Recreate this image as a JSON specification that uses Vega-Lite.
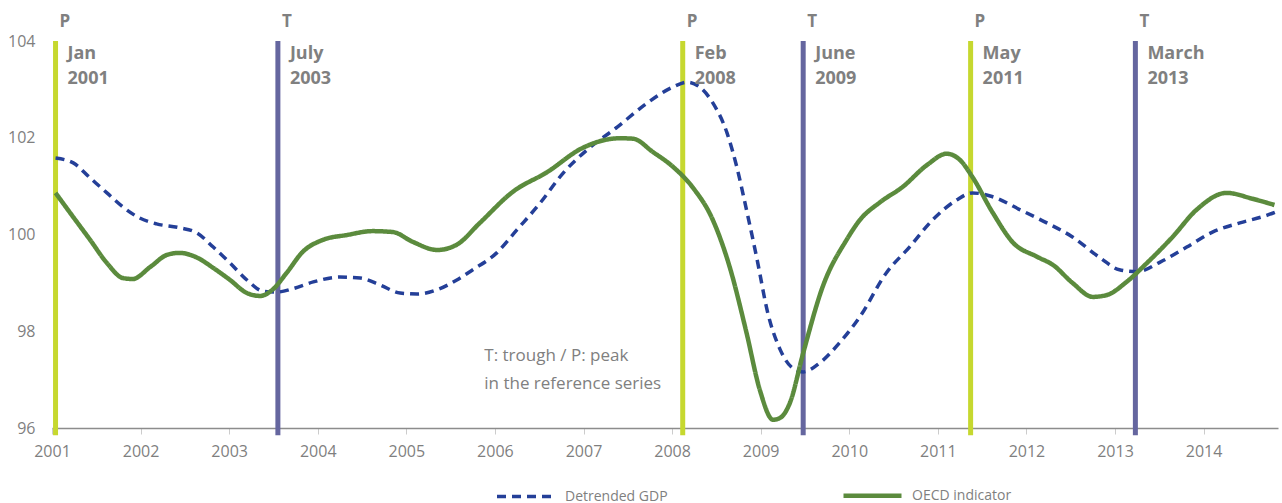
{
  "$schema": "https://vega.github.io/schema/vega-lite/v6.json",
  "width": 1226,
  "height": 387,
  "autosize": {"type": "none"},
  "padding": {"left": 52, "top": 41, "right": 4, "bottom": 75},
  "background": "white",
  "config": {
    "view": {"stroke": null},
    "font": "Open Sans"
  },
  "datasets": {
    "series": [
      {"series": "Detrended GDP", "year": 2001.04, "value": 101.58},
      {"series": "Detrended GDP", "year": 2001.24, "value": 101.48},
      {"series": "Detrended GDP", "year": 2001.43, "value": 101.17},
      {"series": "Detrended GDP", "year": 2001.62, "value": 100.86},
      {"series": "Detrended GDP", "year": 2001.80, "value": 100.57},
      {"series": "Detrended GDP", "year": 2001.99, "value": 100.34},
      {"series": "Detrended GDP", "year": 2002.18, "value": 100.22},
      {"series": "Detrended GDP", "year": 2002.44, "value": 100.14},
      {"series": "Detrended GDP", "year": 2002.64, "value": 100.03},
      {"series": "Detrended GDP", "year": 2002.82, "value": 99.74},
      {"series": "Detrended GDP", "year": 2003.01, "value": 99.41},
      {"series": "Detrended GDP", "year": 2003.20, "value": 99.06},
      {"series": "Detrended GDP", "year": 2003.38, "value": 98.83},
      {"series": "Detrended GDP", "year": 2003.54, "value": 98.81},
      {"series": "Detrended GDP", "year": 2003.72, "value": 98.88},
      {"series": "Detrended GDP", "year": 2003.95, "value": 99.02},
      {"series": "Detrended GDP", "year": 2004.25, "value": 99.12},
      {"series": "Detrended GDP", "year": 2004.48, "value": 99.10},
      {"series": "Detrended GDP", "year": 2004.70, "value": 98.96},
      {"series": "Detrended GDP", "year": 2004.93, "value": 98.79},
      {"series": "Detrended GDP", "year": 2005.12, "value": 98.77},
      {"series": "Detrended GDP", "year": 2005.35, "value": 98.86},
      {"series": "Detrended GDP", "year": 2005.57, "value": 99.06},
      {"series": "Detrended GDP", "year": 2005.75, "value": 99.27},
      {"series": "Detrended GDP", "year": 2006.02, "value": 99.62},
      {"series": "Detrended GDP", "year": 2006.25, "value": 100.10},
      {"series": "Detrended GDP", "year": 2006.51, "value": 100.65},
      {"series": "Detrended GDP", "year": 2006.77, "value": 101.27},
      {"series": "Detrended GDP", "year": 2007.04, "value": 101.75},
      {"series": "Detrended GDP", "year": 2007.38, "value": 102.22},
      {"series": "Detrended GDP", "year": 2007.72, "value": 102.72},
      {"series": "Detrended GDP", "year": 2008.01, "value": 103.05},
      {"series": "Detrended GDP", "year": 2008.17, "value": 103.15},
      {"series": "Detrended GDP", "year": 2008.31, "value": 103.05},
      {"series": "Detrended GDP", "year": 2008.46, "value": 102.72},
      {"series": "Detrended GDP", "year": 2008.62, "value": 102.10},
      {"series": "Detrended GDP", "year": 2008.73, "value": 101.40},
      {"series": "Detrended GDP", "year": 2008.84, "value": 100.51},
      {"series": "Detrended GDP", "year": 2008.96, "value": 99.48},
      {"series": "Detrended GDP", "year": 2009.08, "value": 98.38},
      {"series": "Detrended GDP", "year": 2009.22, "value": 97.62},
      {"series": "Detrended GDP", "year": 2009.36, "value": 97.24},
      {"series": "Detrended GDP", "year": 2009.48, "value": 97.16},
      {"series": "Detrended GDP", "year": 2009.67, "value": 97.35},
      {"series": "Detrended GDP", "year": 2009.89, "value": 97.76},
      {"series": "Detrended GDP", "year": 2010.12, "value": 98.30},
      {"series": "Detrended GDP", "year": 2010.42, "value": 99.21},
      {"series": "Detrended GDP", "year": 2010.68, "value": 99.74},
      {"series": "Detrended GDP", "year": 2010.94, "value": 100.30},
      {"series": "Detrended GDP", "year": 2011.21, "value": 100.71},
      {"series": "Detrended GDP", "year": 2011.39, "value": 100.86},
      {"series": "Detrended GDP", "year": 2011.62, "value": 100.78},
      {"series": "Detrended GDP", "year": 2011.93, "value": 100.51},
      {"series": "Detrended GDP", "year": 2012.23, "value": 100.24},
      {"series": "Detrended GDP", "year": 2012.52, "value": 99.95},
      {"series": "Detrended GDP", "year": 2012.83, "value": 99.52},
      {"series": "Detrended GDP", "year": 2013.05, "value": 99.27},
      {"series": "Detrended GDP", "year": 2013.25, "value": 99.23},
      {"series": "Detrended GDP", "year": 2013.51, "value": 99.43},
      {"series": "Detrended GDP", "year": 2013.81, "value": 99.74},
      {"series": "Detrended GDP", "year": 2014.10, "value": 100.05},
      {"series": "Detrended GDP", "year": 2014.41, "value": 100.24},
      {"series": "Detrended GDP", "year": 2014.72, "value": 100.40},
      {"series": "Detrended GDP", "year": 2014.82, "value": 100.47},
      {"series": "OECD indicator", "year": 2001.04, "value": 100.86},
      {"series": "OECD indicator", "year": 2001.24, "value": 100.36},
      {"series": "OECD indicator", "year": 2001.43, "value": 99.89},
      {"series": "OECD indicator", "year": 2001.62, "value": 99.41},
      {"series": "OECD indicator", "year": 2001.80, "value": 99.10},
      {"series": "OECD indicator", "year": 2001.91, "value": 99.08},
      {"series": "OECD indicator", "year": 2002.11, "value": 99.33},
      {"series": "OECD indicator", "year": 2002.30, "value": 99.58},
      {"series": "OECD indicator", "year": 2002.44, "value": 99.62},
      {"series": "OECD indicator", "year": 2002.64, "value": 99.52},
      {"series": "OECD indicator", "year": 2002.82, "value": 99.31},
      {"series": "OECD indicator", "year": 2003.01, "value": 99.06},
      {"series": "OECD indicator", "year": 2003.20, "value": 98.79},
      {"series": "OECD indicator", "year": 2003.35, "value": 98.73},
      {"series": "OECD indicator", "year": 2003.49, "value": 98.86},
      {"series": "OECD indicator", "year": 2003.65, "value": 99.21},
      {"series": "OECD indicator", "year": 2003.83, "value": 99.64},
      {"series": "OECD indicator", "year": 2004.06, "value": 99.89},
      {"series": "OECD indicator", "year": 2004.33, "value": 99.99},
      {"series": "OECD indicator", "year": 2004.62, "value": 100.07},
      {"series": "OECD indicator", "year": 2004.85, "value": 100.05},
      {"series": "OECD indicator", "year": 2005.07, "value": 99.85},
      {"series": "OECD indicator", "year": 2005.35, "value": 99.68},
      {"series": "OECD indicator", "year": 2005.57, "value": 99.79},
      {"series": "OECD indicator", "year": 2005.83, "value": 100.24},
      {"series": "OECD indicator", "year": 2006.20, "value": 100.88},
      {"series": "OECD indicator", "year": 2006.59, "value": 101.29},
      {"series": "OECD indicator", "year": 2006.99, "value": 101.79},
      {"series": "OECD indicator", "year": 2007.41, "value": 101.99},
      {"series": "OECD indicator", "year": 2007.56, "value": 101.98},
      {"series": "OECD indicator", "year": 2007.78, "value": 101.71},
      {"series": "OECD indicator", "year": 2008.01, "value": 101.40},
      {"series": "OECD indicator", "year": 2008.23, "value": 100.98},
      {"series": "OECD indicator", "year": 2008.46, "value": 100.30},
      {"series": "OECD indicator", "year": 2008.65, "value": 99.33},
      {"series": "OECD indicator", "year": 2008.84, "value": 97.97},
      {"series": "OECD indicator", "year": 2008.99, "value": 96.79},
      {"series": "OECD indicator", "year": 2009.14, "value": 96.17},
      {"series": "OECD indicator", "year": 2009.22, "value": 96.21},
      {"series": "OECD indicator", "year": 2009.33, "value": 96.52},
      {"series": "OECD indicator", "year": 2009.48, "value": 97.55},
      {"series": "OECD indicator", "year": 2009.70, "value": 98.92},
      {"series": "OECD indicator", "year": 2009.97, "value": 99.89},
      {"series": "OECD indicator", "year": 2010.12, "value": 100.30},
      {"series": "OECD indicator", "year": 2010.35, "value": 100.67},
      {"series": "OECD indicator", "year": 2010.60, "value": 100.98},
      {"series": "OECD indicator", "year": 2010.88, "value": 101.44},
      {"series": "OECD indicator", "year": 2011.10, "value": 101.67},
      {"series": "OECD indicator", "year": 2011.25, "value": 101.54},
      {"series": "OECD indicator", "year": 2011.39, "value": 101.19},
      {"series": "OECD indicator", "year": 2011.62, "value": 100.45},
      {"series": "OECD indicator", "year": 2011.85, "value": 99.83},
      {"series": "OECD indicator", "year": 2012.12, "value": 99.54},
      {"series": "OECD indicator", "year": 2012.30, "value": 99.37},
      {"series": "OECD indicator", "year": 2012.52, "value": 99.00},
      {"series": "OECD indicator", "year": 2012.75, "value": 98.71},
      {"series": "OECD indicator", "year": 2012.91, "value": 98.75},
      {"series": "OECD indicator", "year": 2013.13, "value": 99.02},
      {"series": "OECD indicator", "year": 2013.36, "value": 99.41},
      {"series": "OECD indicator", "year": 2013.65, "value": 99.95},
      {"series": "OECD indicator", "year": 2013.92, "value": 100.51},
      {"series": "OECD indicator", "year": 2014.26, "value": 100.86},
      {"series": "OECD indicator", "year": 2014.55, "value": 100.74},
      {"series": "OECD indicator", "year": 2014.80, "value": 100.61}
    ],
    "events": [
      {"year": 2001.04, "type": "P", "label": "Jan\n2001"},
      {"year": 2003.55, "type": "T", "label": "July\n2003"},
      {"year": 2008.12, "type": "P", "label": "Feb\n2008"},
      {"year": 2009.48, "type": "T", "label": "June\n2009"},
      {"year": 2011.37, "type": "P", "label": "May\n2011"},
      {"year": 2013.23, "type": "T", "label": "March\n2013"}
    ],
    "note": [
      {"year": 2005.88, "value": 97.66, "text": "T: trough / P: peak\nin the reference series"}
    ]
  },
  "layer": [
    {
      "data": {"name": "events"},
      "mark": {"type": "rule", "strokeWidth": 5},
      "encoding": {
        "x": {"field": "year", "type": "quantitative",
              "scale": {"domain": [2001, 2014.84], "nice": false, "zero": false},
              "axis": {"values": [2001, 2002, 2003, 2004, 2005, 2006, 2007, 2008, 2009, 2010, 2011, 2012, 2013, 2014],
                       "format": "d", "title": null, "grid": false, "labelFlush": false,
                       "domainColor": "#8c8c8c", "domainWidth": 1.5,
                       "tickColor": "#cccccc", "tickSize": 6, "tickWidth": 1,
                       "labelFontSize": 16, "labelColor": "#7f7f7f", "labelPadding": 9, "labelFont": "Open Sans"}},
        "y": {"datum": 104, "type": "quantitative",
              "scale": {"domain": [96, 104], "nice": false, "zero": false},
              "axis": {"values": [96, 98, 100, 102, 104], "title": null, "grid": false,
                       "domain": false, "ticks": false, "labelPadding": 17, "labelFlush": false,
                       "labelFontSize": 16, "labelColor": "#7f7f7f", "labelFont": "Open Sans"}},
        "y2": {"datum": 95.85},
        "color": {"field": "type", "type": "nominal",
                  "scale": {"domain": ["P", "T"], "range": ["#c6d82f", "#65669f"]},
                  "legend": null}
      }
    },
    {
      "data": {"name": "series"},
      "mark": {"type": "line", "interpolate": "monotone"},
      "encoding": {
        "x": {"field": "year", "type": "quantitative"},
        "y": {"field": "value", "type": "quantitative"},
        "stroke": {"field": "series", "type": "nominal",
                   "scale": {"domain": ["Detrended GDP", "OECD indicator"], "range": ["#243f98", "#5b8b3d"]},
                   "legend": {"title": null, "orient": "none", "direction": "horizontal",
                              "legendX": 443, "legendY": 423,
                              "symbolType": "stroke", "symbolSize": 3364, "symbolStrokeWidth": 4,
                              "labelFontSize": 14, "labelColor": "#7f7f7f", "labelFont": "Open Sans",
                              "labelOffset": 8, "columnPadding": 166}},
        "strokeDash": {"field": "series", "type": "nominal",
                       "scale": {"domain": ["Detrended GDP", "OECD indicator"], "range": [[9, 6], [1, 0]]},
                       "legend": {"title": null, "orient": "none", "direction": "horizontal",
                              "legendX": 443, "legendY": 423,
                              "symbolType": "stroke", "symbolSize": 3364, "symbolStrokeWidth": 4,
                              "labelFontSize": 14, "labelColor": "#7f7f7f", "labelFont": "Open Sans",
                              "labelOffset": 8, "columnPadding": 166}},
        "strokeWidth": {"field": "series", "type": "nominal",
                        "scale": {"domain": ["Detrended GDP", "OECD indicator"], "range": [3.5, 4.5]},
                        "legend": null}
      }
    },
    {
      "data": {"name": "events"},
      "mark": {"type": "text", "align": "left", "baseline": "middle", "dx": 4, "dy": -19,
               "fontSize": 17, "fontWeight": "bold", "color": "#808080", "font": "Open Sans"},
      "encoding": {
        "x": {"field": "year", "type": "quantitative"},
        "y": {"datum": 104, "type": "quantitative"},
        "text": {"field": "type"}
      }
    },
    {
      "data": {"name": "events"},
      "mark": {"type": "text", "align": "left", "baseline": "top", "dx": 12, "dy": 4, "lineBreak": "\n",
               "lineHeight": 25, "fontSize": 18, "fontWeight": "bold", "color": "#808080", "font": "Open Sans"},
      "encoding": {
        "x": {"field": "year", "type": "quantitative"},
        "y": {"datum": 104, "type": "quantitative"},
        "text": {"field": "label"}
      }
    },
    {
      "data": {"name": "note"},
      "mark": {"type": "text", "align": "left", "baseline": "top", "lineBreak": "\n",
               "lineHeight": 28, "fontSize": 17, "color": "#808080", "font": "Open Sans"},
      "encoding": {
        "x": {"field": "year", "type": "quantitative"},
        "y": {"field": "value", "type": "quantitative"},
        "text": {"field": "text"}
      }
    }
  ]
}
